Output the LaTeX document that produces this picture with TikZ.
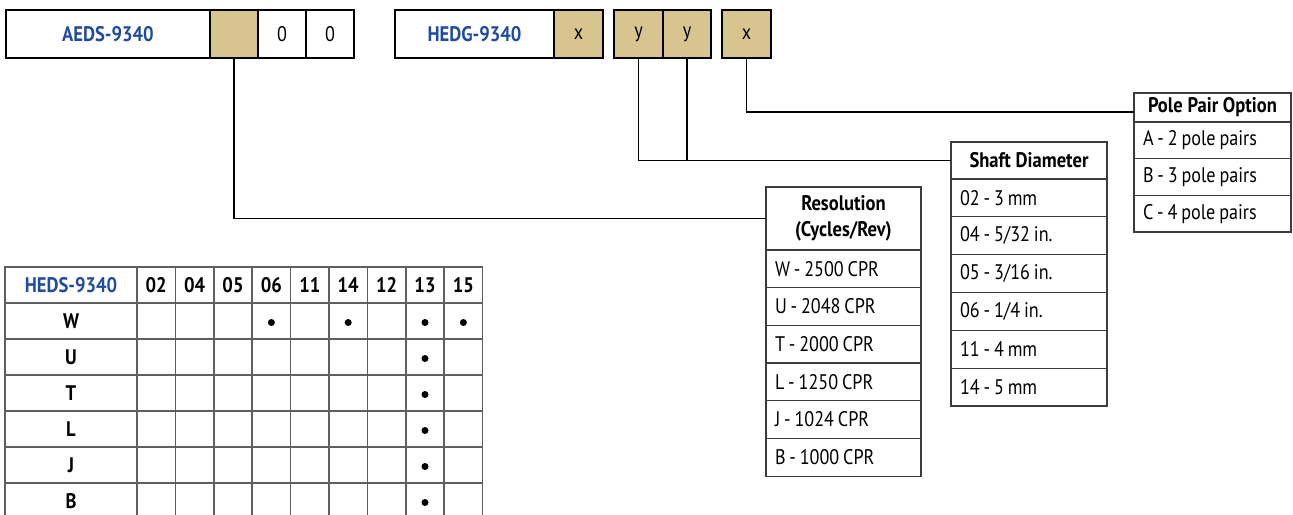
\documentclass[tikz,border=0pt,12pt]{standalone}
\usepackage{fontspec}
\setmainfont{PT Sans}[FakeStretch=0.86, BoldFeatures={FakeStretch=0.88}]
\usepackage{tikz}
\usetikzlibrary{calc,positioning}
\definecolor{azulTxt}{RGB}{33,76,158}
\definecolor{tanBox}{RGB}{216,196,142}
\definecolor{gridGris}{RGB}{95,95,95}
\definecolor{lineaBox}{RGB}{60,60,60}

\begin{document}
\begin{tikzpicture}[x=0.02cm, y=-0.02cm, node distance=0pt,
  partbox/.style={draw, line width=1.1pt, inner sep=0pt, minimum height=0.96cm,
    minimum width=#1*0.02cm},
  codebox/.style={partbox=#1, fill=tanBox},
  listhead/.style={draw=lineaBox, line width=0.6pt, inner sep=0pt, outer sep=0pt,
    font=\bfseries, align=center, minimum width=#1*0.02cm},
  listrow/.style={draw=lineaBox, line width=0.6pt, inner xsep=0.18cm, inner ysep=0pt,
    outer sep=0pt, text width=#1*0.02cm-0.36cm, align=left,
    execute at begin node={\spaceskip=2.2pt\relax}},
  tcell/.style={draw=gridGris, line width=0.85pt, inner sep=0pt, font=\bfseries,
    minimum height=0.72cm, minimum width=#1*0.02cm},
  conn/.style={draw=black, line width=0.6pt}]
  \clip (0,0) rectangle (1293,514);
  % Part number boxes
  \node[partbox=204] (aeds) at (108,34) {\textcolor{azulTxt}{\bfseries AEDS-9340}};
  \node[codebox=48] (tan) at (234,34) {};
  \node[partbox=48] (zeroA) at (282,34) {0};
  \node[partbox=48] (zeroB) at (330,34) {0};

  \node[partbox=159] (hedg) at (474.5,34) {\textcolor{azulTxt}{\bfseries HEDG-9340}};
  \node[codebox=49] (hx) at (578.5,34) {x};
  \node[codebox=49] (ya) at (638.5,34) {y};
  \node[codebox=48] (yb) at (687,34) {y};
  \node[codebox=49] (px) at (746.5,34) {x};

  % Resolution list
  \node[listhead=155, minimum height=63*0.02cm] (res0) at (843.5,218.5)
    {Resolution\\(Cycles/Rev)};
  \foreach \t [count=\i, remember=\i as \j (initially 0)] in
    {W - 2500 CPR, U - 2048 CPR, T - 2000 CPR, L - 1250 CPR, J - 1024 CPR, B - 1000 CPR}
    \node[listrow=155, minimum height=37.67*0.02cm, below=of res\j] (res\i) {\t};

  % Shaft diameter list
  \node[listhead=156, minimum height=37*0.02cm] (sh0) at (1029,160.5) {Shaft Diameter};
  \foreach \t [count=\i, remember=\i as \j (initially 0)] in
    {02 - 3 mm, 04 - 5/32 in., 05 - 3/16 in., 06 - 1/4 in., 11 - 4 mm, 14 - 5 mm}
    \node[listrow=156, minimum height=37.83*0.02cm, below=of sh\j] (sh\i) {\t};

  % Pole pair list
  \node[listhead=157, minimum height=29*0.02cm] (pole0) at (1212.5,107.5) {Pole Pair Option};
  \foreach \t [count=\i, remember=\i as \j (initially 0)] in
    {A - 2 pole pairs, B - 3 pole pairs, C - 4 pole pairs}
    \node[listrow=157, minimum height=36.67*0.02cm, below=of pole\j] (pole\i) {\t};

  % Connectors
  \coordinate (polein) at ($(pole0.west)+(0,4.5)$);
  \draw[conn] (tan.south) |- (res0.west);
  \draw[conn] (ya.south) |- (sh0.west);
  \draw[conn] (yb.south) -- (yb.south |- sh0.west);
  \draw[conn] (px.south) |- (polein);

  % Compatibility table
  \node[tcell=132, text=azulTxt] (thead) at (71,285) {HEDS-9340};
  \foreach \c [count=\i] in {02,04,05,06,11,14,12,13,15}
    \node[tcell=38.4] (c\i) at ({137+38.4*\i-19.2},285) {\c};
  \foreach \r [count=\j] in {W,U,T,L,J,B} {
    \node[tcell=132] (r\j) at (71,{285+36*\j}) {\r};
    \foreach \i in {1,...,9}
      \node[tcell=38.4] (m\i-\j) at (c\i |- r\j) {};
  }
  \foreach \i/\j in {4/1,6/1,8/1,9/1,8/2,8/3,8/4,8/5,8/6}
    \fill ([yshift=-0.03cm]m\i-\j.center) circle[radius=0.07cm];
\end{tikzpicture}
\end{document}
